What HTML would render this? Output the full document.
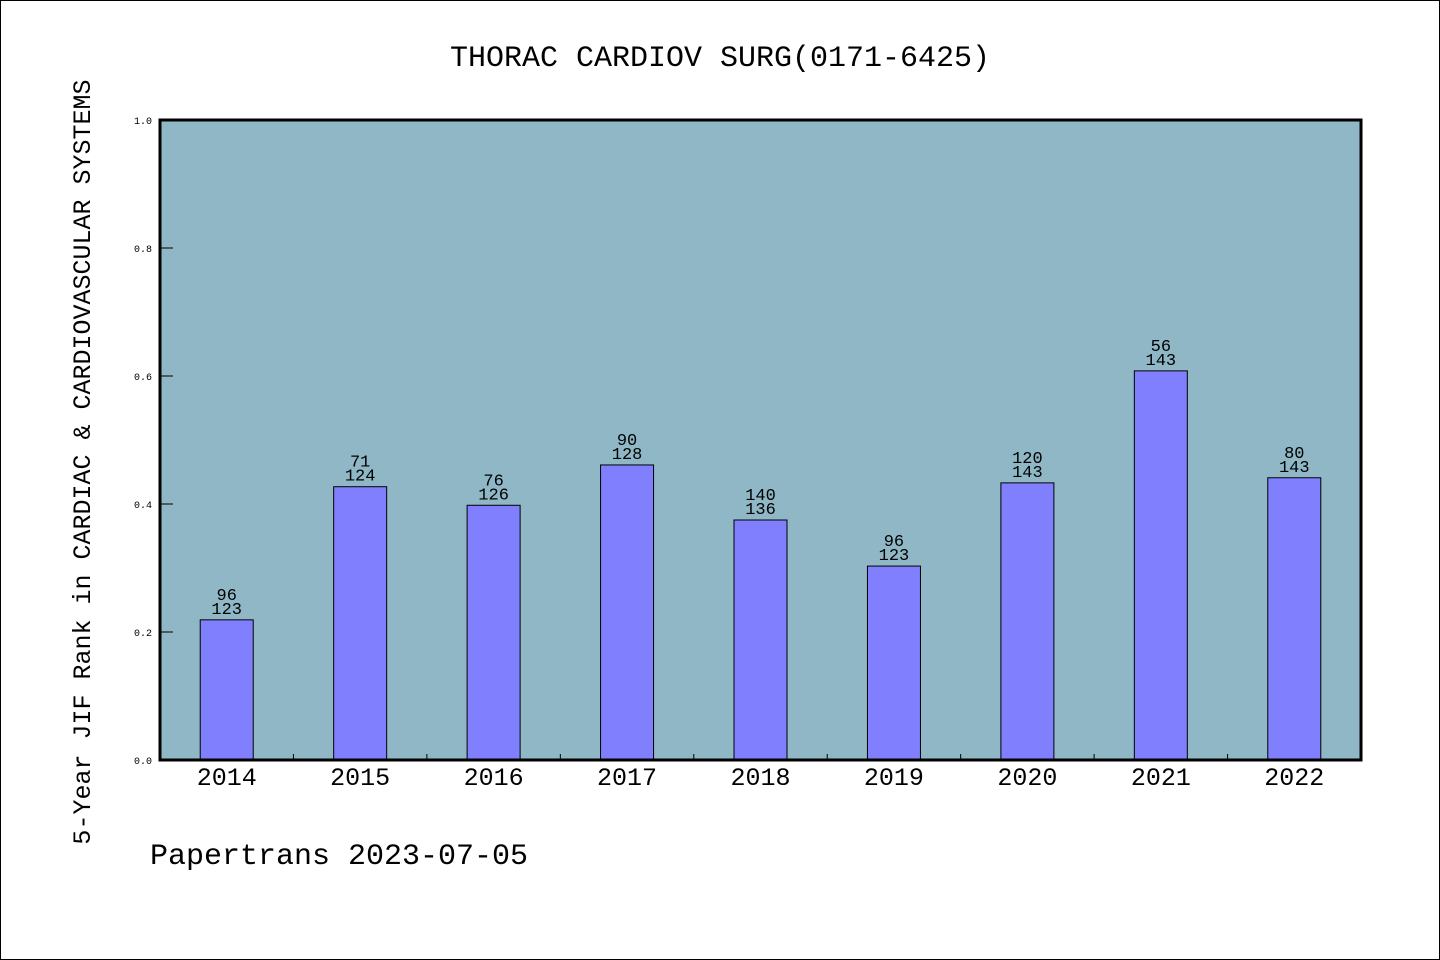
<!DOCTYPE html>
<html><head><meta charset="utf-8"><style>
html,body{margin:0;padding:0;background:#fff}
svg{display:block}
text{font-family:"Liberation Mono","WenQuanYi Zen Hei",monospace;fill:#000}
</style></head><body>
<svg id="chart" width="1440" height="960" viewBox="0 0 1440 960">
<rect x="0.5" y="0.5" width="1439" height="959" fill="#fff" stroke="#000"/>
<text x="720" y="66" font-size="30" text-anchor="middle">THORAC CARDIOV SURG(0171-6425)</text>
<rect x="160" y="120" width="1201" height="640" fill="#8fb7c6"/>
<g id="bars"></g>
<rect x="160" y="120" width="1201" height="640" fill="none" stroke="#000" stroke-width="3"/>
<text transform="translate(90,462) rotate(-90)" font-size="25" text-anchor="middle">5-Year JIF Rank in CARDIAC &amp; CARDIOVASCULAR SYSTEMS</text>
<text x="150" y="864" font-size="30">Papertrans 2023-07-05</text>
</svg>
<script>
const categories=["2014","2015","2016","2017","2018","2019","2020","2021","2022"];
const values=[0.219,0.427,0.398,0.461,0.375,0.303,0.433,0.608,0.441];
const ranks=["96","71","76","90","140","96","120","56","80"];
const totals=["123","124","126","128","136","123","143","143","143"];
const yTicks=[0,0.2,0.4,0.6,0.8,1.0];
const X0=160,X1=1361,Y0=760,Y1=120;
const step=(X1-X0)/categories.length;
const xc=i=>X0+step*(i+0.5);
const y=v=>Y0-(Y0-Y1)*v;
const ns="http://www.w3.org/2000/svg";
const g=document.getElementById('bars');
function mk(t,a){const e=document.createElementNS(ns,t);for(const k in a)e.setAttribute(k,a[k]);return e;}
yTicks.forEach(t=>{
 const l=mk('line',{x1:X0,x2:X0+13,y1:y(t),y2:y(t),stroke:'#000','stroke-width':1});
 
 
 g.appendChild(l);
 const tx=mk('text',{x:X0-8,y:y(t)+4,'font-size':10,'text-anchor':'end'});
 
 
 tx.textContent=t.toFixed(1);g.appendChild(tx);
});
for(let i=1;i<categories.length;i++){
 const l=mk('line',{x1:X0+step*i,x2:X0+step*i,y1:Y0,y2:Y0-6,stroke:'#000','stroke-width':1});
 
 
 g.appendChild(l);
}
categories.forEach((c,i)=>{
 const bw=53;
 const r=mk('rect',{x:xc(i)-bw/2,y:y(values[i]),width:bw,height:Y0-y(values[i]),fill:'#8080ff',stroke:'#000','stroke-width':1});
 
 
 g.appendChild(r);
 const t1=mk('text',{x:xc(i),y:y(values[i])-20,'font-size':17,'text-anchor':'middle'});
 
 
 t1.textContent=ranks[i];g.appendChild(t1);
 const t2=mk('text',{x:xc(i),y:y(values[i])-6,'font-size':17,'text-anchor':'middle'});
 
 
 t2.textContent=totals[i];g.appendChild(t2);
 const xl=mk('text',{x:xc(i),y:785,'font-size':25,'text-anchor':'middle'});
 
 
 xl.textContent=c;g.appendChild(xl);
});
</script>
</body></html>
